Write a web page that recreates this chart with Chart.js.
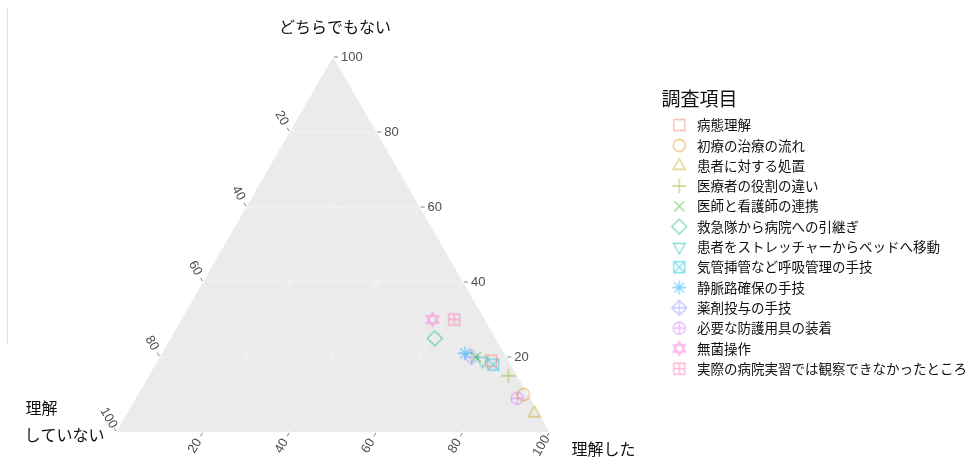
<!DOCTYPE html>
<html>
<head>
<meta charset="utf-8">
<script src="https://cdn.jsdelivr.net/npm/chart.js@4.4.1/dist/chart.umd.min.js"></script>
<style>
  html, body { margin: 0; padding: 0; background: #ffffff; }
  #c { display: block; }
</style>
</head>
<body>
<canvas id="c" width="969" height="472"></canvas>
<script>
// 調査項目ごとの回答割合 (%)
const categories = [
  '病態理解',
  '初療の治療の流れ',
  '患者に対する処置',
  '医療者の役割の違い',
  '医師と看護師の連携',
  '救急隊から病院への引継ぎ',
  '患者をストレッチャーからベッドへ移動',
  '気管挿管など呼吸管理の手技',
  '静脈路確保の手技',
  '薬剤投与の手技',
  '必要な防護用具の装着',
  '無菌操作',
  '実際の病院実習では観察できなかったところ'
];
const understood    = [77, 89, 94, 83, 73, 61, 75, 78, 70, 72, 88, 58, 63]; // 理解した
const neutral       = [19, 10,  5, 15, 20, 25, 19, 18, 21, 20,  9, 30, 30]; // どちらでもない
const notUnderstood = [ 4,  1,  1,  2,  7, 14,  6,  4,  9,  8,  3, 12,  7]; // 理解していない

const tickValues = [20, 40, 60, 80, 100];
const gridValues = [20, 40, 60, 80];
const titleTop = 'どちらでもない';
const titleRight = '理解した';
const titleLeft = ['理解', 'していない'];
const legendTitle = '調査項目';

// marker styling (ggplot-like hue palette and shapes 0..12)
const palette = ['#F8766D', '#E18A00', '#BE9C00', '#8CAB00', '#24B700', '#00BE70', '#00C1AB',
                 '#00BBDA', '#00ACFC', '#8B93FF', '#D575FE', '#F962DD', '#FF65AC'];
const shapes = ['square', 'circle', 'triangle', 'plus', 'cross', 'diamond', 'triangleDown',
                'squareCross', 'asterisk', 'diamondPlus', 'circlePlus', 'star', 'squarePlus'];

const CJK = '"Noto Sans CJK JP", "Noto Sans", sans-serif';
const LATIN = '"Liberation Sans", Arial, sans-serif';
const SQ3 = Math.sqrt(3) / 2;

function makeMarker(kind, color) {
  const s = 18;
  const cv = document.createElement('canvas');
  cv.width = s; cv.height = s;
  const g = cv.getContext('2d');
  g.globalAlpha = 0.5;
  g.strokeStyle = color;
  g.lineWidth = 1.3;
  g.translate(s / 2, s / 2);
  const h = 5.5;
  const line = (a, b, c, d) => { g.moveTo(a, b); g.lineTo(c, d); };
  const tri = (dir) => {
    const r = 7;
    g.moveTo(0, -dir * r);
    g.lineTo(r * SQ3, dir * r / 2);
    g.lineTo(-r * SQ3, dir * r / 2);
    g.closePath();
  };
  const diamond = () => { const r = 7.5; g.moveTo(0, -r); g.lineTo(r, 0); g.lineTo(0, r); g.lineTo(-r, 0); g.closePath(); };
  g.beginPath();
  switch (kind) {
    case 'square': g.rect(-h, -h, 2 * h, 2 * h); break;
    case 'circle': g.arc(0, 0, 6, 0, Math.PI * 2); break;
    case 'triangle': tri(1); break;
    case 'triangleDown': tri(-1); break;
    case 'plus': line(-7, 0, 7, 0); line(0, -7, 0, 7); break;
    case 'cross': line(-5, -5, 5, 5); line(-5, 5, 5, -5); break;
    case 'diamond': diamond(); break;
    case 'squareCross': g.rect(-h, -h, 2 * h, 2 * h); line(-h, -h, h, h); line(-h, h, h, -h); break;
    case 'asterisk': line(-7, 0, 7, 0); line(0, -7, 0, 7); line(-5, -5, 5, 5); line(-5, 5, 5, -5); break;
    case 'diamondPlus': diamond(); line(-7.5, 0, 7.5, 0); line(0, -7.5, 0, 7.5); break;
    case 'circlePlus': g.arc(0, 0, 6, 0, Math.PI * 2); line(-6, 0, 6, 0); line(0, -6, 0, 6); break;
    case 'star': tri(1); tri(-1); break;
    case 'squarePlus': g.rect(-h, -h, 2 * h, 2 * h); line(-h, 0, h, 0); line(0, -h, 0, h); break;
  }
  g.stroke();
  return cv;
}

// ternary (理解した, どちらでもない) -> cartesian units on a side-100 triangle
const toXY = (r, t) => ({ x: r + t / 2, y: t * SQ3 });

const datasets = categories.map((name, i) => ({
  label: name,
  data: [toXY(understood[i], neutral[i])],
  pointStyle: makeMarker(shapes[i], palette[i]),
  pointRadius: 7,
  pointHoverRadius: 7
}));

// keeps the x/y units isotropic and places the triangle frame in the plot area
const ternaryFrame = {
  id: 'ternaryFrame',
  afterLayout(chart, args, opts) {
    const xs = chart.scales.x, ys = chart.scales.y;
    const k = opts.side / 100;
    xs.min = (xs.left - opts.left) / k;
    xs.max = xs.min + (xs.right - xs.left) / k;
    ys.min = (opts.bottom - ys.bottom) / k;
    ys.max = (opts.bottom - ys.top) / k;
    xs.configure();
    ys.configure();
  },
  beforeDatasetsDraw(chart) {
    const ctx = chart.ctx;
    const xs = chart.scales.x, ys = chart.scales.y;
    const P = (r, t) => { const p = toXY(r, t); return [xs.getPixelForValue(p.x), ys.getPixelForValue(p.y)]; };
    const A = P(0, 100), BL = P(0, 0), BR = P(100, 0);

    ctx.save();
    // thin frame line at the left of the figure
    ctx.strokeStyle = '#e4e4e4';
    ctx.lineWidth = 1;
    ctx.beginPath(); ctx.moveTo(7.5, 8); ctx.lineTo(7.5, 345); ctx.stroke();

    // panel
    ctx.fillStyle = '#EBEBEB';
    ctx.beginPath();
    ctx.moveTo(A[0], A[1]); ctx.lineTo(BR[0], BR[1]); ctx.lineTo(BL[0], BL[1]); ctx.closePath();
    ctx.fill();

    // grid
    ctx.strokeStyle = 'rgba(255,255,255,0.4)';
    ctx.lineWidth = 1;
    gridValues.forEach(v => {
      let a, b;
      ctx.beginPath();
      a = P(0, v); b = P(100 - v, v); ctx.moveTo(a[0], a[1]); ctx.lineTo(b[0], b[1]);       // どちらでもない
      a = P(v, 0); b = P(v, 100 - v); ctx.moveTo(a[0], a[1]); ctx.lineTo(b[0], b[1]);       // 理解した
      a = P(0, 100 - v); b = P(100 - v, 0); ctx.moveTo(a[0], a[1]); ctx.lineTo(b[0], b[1]); // 理解していない
      ctx.stroke();
    });

    // ticks and tick labels
    ctx.strokeStyle = '#666666';
    ctx.lineWidth = 0.8;
    ctx.fillStyle = '#4D4D4D';
    ctx.font = '13px ' + LATIN;
    tickValues.forEach(v => {
      // どちらでもない : right edge, horizontal ticks
      let p = P(100 - v, v);
      ctx.beginPath(); ctx.moveTo(p[0] + 1, p[1]); ctx.lineTo(p[0] + 5, p[1]); ctx.stroke();
      ctx.textAlign = 'left'; ctx.textBaseline = 'middle';
      ctx.fillText(String(v), p[0] + 8, p[1]);

      // 理解していない : left edge, ticks up-left
      p = P(0, 100 - v);
      ctx.beginPath(); ctx.moveTo(p[0] - 0.5, p[1] - 0.9); ctx.lineTo(p[0] - 2.5, p[1] - 4.3); ctx.stroke();
      ctx.save();
      ctx.translate(p[0] - 0.5 * 16, p[1] - SQ3 * 16);
      ctx.rotate(Math.PI / 3);
      ctx.textAlign = 'center'; ctx.textBaseline = 'middle';
      ctx.fillText(String(v), 0, 0);
      ctx.restore();

      // 理解した : bottom edge, ticks down-left
      p = P(v, 0);
      ctx.beginPath(); ctx.moveTo(p[0] - 0.5, p[1] + 0.9); ctx.lineTo(p[0] - 2.5, p[1] + 4.3); ctx.stroke();
      ctx.save();
      ctx.translate(p[0] - 0.5 * 16, p[1] + SQ3 * 16);
      ctx.rotate(-Math.PI / 3);
      ctx.textAlign = 'center'; ctx.textBaseline = 'middle';
      ctx.fillText(String(v), 0, 0);
      ctx.restore();
    });

    // axis titles at the vertices
    ctx.fillStyle = '#111111';
    ctx.font = '16px ' + CJK;
    ctx.textBaseline = 'middle';
    ctx.textAlign = 'center';
    ctx.fillText(titleTop, A[0] + 2, A[1] - 30);
    ctx.textAlign = 'left';
    ctx.fillText(titleRight, BR[0] + 22, BR[1] + 17);
    ctx.fillText(titleLeft[0], BL[0] - 91, BL[1] - 24);
    ctx.fillText(titleLeft[1], BL[0] - 92, BL[1] + 3);
    ctx.restore();
  }
};

new Chart(document.getElementById('c'), {
  type: 'scatter',
  data: { datasets },
  plugins: [ternaryFrame],
  options: {
    responsive: false,
    animation: false,
    layout: { padding: { left: 0, right: -8, top: 0, bottom: 0 } },
    scales: {
      x: { type: 'linear', display: false },
      y: { type: 'linear', display: false }
    },
    plugins: {
      ternaryFrame: { left: 116.5, bottom: 432, side: 433 },
      tooltip: { enabled: false },
      legend: {
        position: 'right',
        align: 'center',
        title: {
          display: true,
          text: legendTitle,
          position: 'start',
          color: '#111111',
          font: { family: CJK, size: 19 },
          padding: { top: 0, bottom: -1 }
        },
        labels: {
          usePointStyle: true,
          pointStyleWidth: 22,
          boxHeight: 13,
          padding: 6.8,
          color: '#111111',
          font: { family: CJK, size: 13.5 }
        }
      }
    }
  }
});
</script>
</body>
</html>
